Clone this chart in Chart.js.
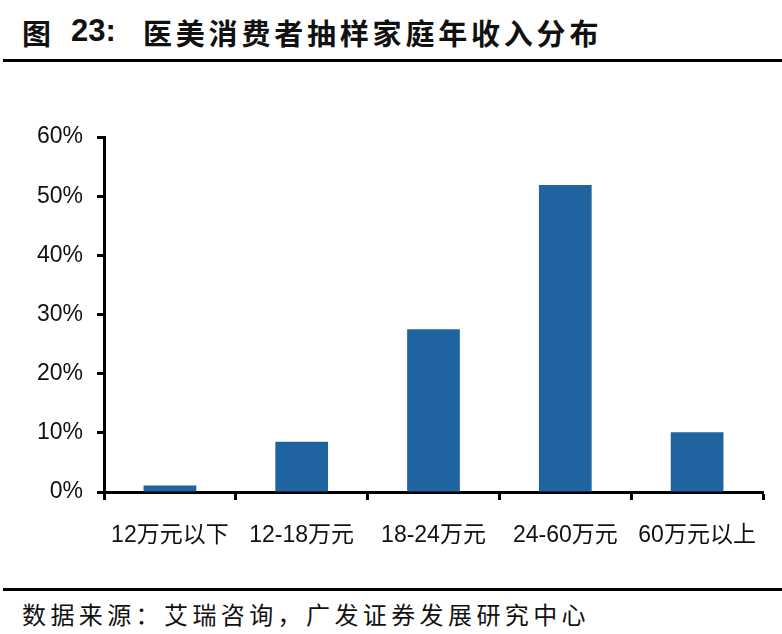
<!DOCTYPE html>
<html>
<head>
<meta charset="utf-8">
<script src="https://cdn.jsdelivr.net/npm/chart.js@4/dist/chart.umd.min.js"></script>
<style>
  body { margin: 0; background: #fff; width: 782px; height: 634px; position: relative; overflow: hidden; }
  .title { position: absolute; top: 11px; font: bold 29px "Noto Sans CJK SC", sans-serif; color: #111; white-space: nowrap; }
  .title.num { font-family: "Liberation Sans", Arial, sans-serif; font-size: 31px; top: 13px; }
  .rule { position: absolute; left: 3px; right: 0; height: 3px; background: #000; }
  #source { position: absolute; left: 22px; top: 596px; font: 24px "Noto Sans CJK SC", sans-serif; letter-spacing: 4.4px; color: #111; white-space: nowrap; }
  #wrap { position: absolute; left: 0; top: 100px; width: 782px; height: 470px; }
</style>
</head>
<body>
<div class="title" style="left:22px">图</div>
<div class="title num" style="left:71px">23:</div>
<div class="title" style="left:143px; letter-spacing:3.8px">医美消费者抽样家庭年收入分布</div>
<div class="rule" style="top:59px"></div>
<div id="wrap"><canvas id="barChart"></canvas></div>
<div class="rule" style="top:588px"></div>
<div id="source">数据来源：艾瑞咨询，广发证券发展研究中心</div>
<script>
const categories = ['12万元以下', '12-18万元', '18-24万元', '24-60万元', '60万元以上'];
const shares = [1.1, 8.5, 27.5, 51.9, 10.1];
const yTicks = [0, 10, 20, 30, 40, 50, 60];

const tickFont = { family: '"Liberation Sans", "Noto Sans CJK SC", sans-serif', size: 23 };

const ctx = document.getElementById('barChart').getContext('2d');
const myChart = new Chart(ctx, {
    type: 'bar',
    data: {
        labels: categories,
        datasets: [{
            data: shares,
            backgroundColor: '#1F64A0',
            barPercentage: 0.4,
            categoryPercentage: 1
        }]
    },
    options: {
        responsive: true,
        maintainAspectRatio: false,
        animation: false,
        layout: { padding: { top: 37, right: 19, bottom: 0, left: 0 } },
        plugins: {
            legend: { display: false },
            tooltip: { enabled: false }
        },
        scales: {
            x: {
                grid: { offset: true, drawOnChartArea: false, tickLength: 8, tickWidth: 3, tickColor: '#000' },
                border: { display: true, color: '#000', width: 3 },
                ticks: { color: '#111', font: tickFont, padding: 22, maxRotation: 0 },
                afterFit: function(scale) { scale.height = 78; }
            },
            y: {
                min: 0,
                max: 60,
                afterBuildTicks: function(scale) { scale.ticks = yTicks.map(v => ({ value: v })); },
                grid: { drawOnChartArea: false, tickLength: 7, tickWidth: 3, tickColor: '#000' },
                border: { display: true, color: '#000', width: 3 },
                ticks: {
                    color: '#111',
                    font: tickFont,
                    padding: 14,
                    callback: function(value) { return value + '%'; }
                },
                afterFit: function(scale) { scale.width = 104; }
            }
        }
    }
});
</script>
</body>
</html>
